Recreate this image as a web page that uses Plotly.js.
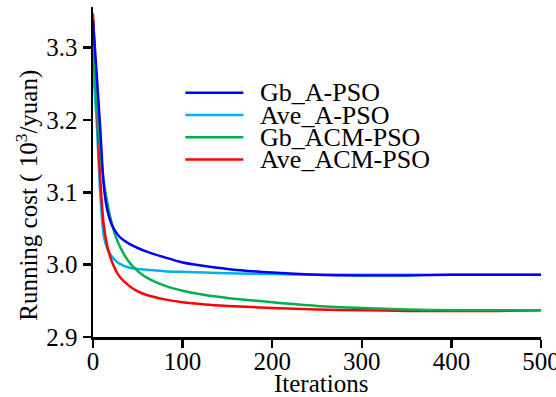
<!DOCTYPE html>
<html>
<head>
<meta charset="utf-8">
<script src="https://cdn.plot.ly/plotly-3.0.1.min.js"></script>
<style>html,body{margin:0;padding:0;background:#fff;}#chart{width:556px;height:397px;}</style>
</head>
<body>
<div id="chart"></div>
<script>
const iterations = [0,4,8,12,16,20,25,30,40,50,60,80,100,125,150,200,250,300,350,400,450,500];
const gbAPSO   = [3.338,3.265,3.19,3.11,3.075,3.058,3.046,3.038,3.029,3.023,3.018,3.010,3.003,2.998,2.994,2.989,2.986,2.985,2.985,2.986,2.986,2.986];
const aveAPSO  = [3.275,3.20,3.10,3.04,3.022,3.013,3.006,3.001,2.996,2.994,2.993,2.991,2.990,2.989,2.988,2.987,2.986,2.986,2.986,2.986,2.986,2.986];
const gbACMPSO = [3.300,3.225,3.16,3.115,3.085,3.062,3.040,3.025,3.004,2.991,2.982,2.971,2.964,2.958,2.954,2.948,2.943,2.940,2.938,2.937,2.937,2.937];
const aveACMPSO= [3.347,3.23,3.12,3.055,3.025,3.008,2.993,2.983,2.971,2.963,2.958,2.952,2.948,2.945,2.943,2.940,2.938,2.937,2.936,2.936,2.936,2.937];

const seriesNames = ["Gb_A-PSO","Ave_A-PSO","Gb_ACM-PSO","Ave_ACM-PSO"];
const seriesValues = [gbAPSO, aveAPSO, gbACMPSO, aveACMPSO];
const seriesColors = ["#0000ff","#00b0f0","#00b050","#ff0000"];
const drawOrder = [1,3,2,0];

const xTickVals = [0,100,200,300,400,500];
const xTickText = ["0","100","200","300","400","500"];
const yTickVals = [2.9,3.0,3.1,3.2,3.3];
const yTickText = ["2.9","3.0","3.1","3.2","3.3"];

const xTitle = "Iterations";
const yTitle = "Running cost ( 10<sup>3</sup>/yuan)";
const FONT = "Liberation Serif";

const traces = drawOrder.map(i => ({
  x: iterations, y: seriesValues[i], name: seriesNames[i],
  type: "scatter", mode: "lines",
  line: {color: seriesColors[i], width: 2.5, shape: "spline", smoothing: 0.8},
  showlegend: false
}));

// manual legend (compact rows)
const legX0 = 0.206, legX1 = 0.3356, legTextX = 0.369;
const legY = [0.7403, 0.6727, 0.6051, 0.5379];
const shapes = [], annotations = [];
seriesNames.forEach((n, i) => {
  shapes.push({type: "line", xref: "paper", yref: "paper", x0: legX0, x1: legX1, y0: legY[i], y1: legY[i],
    line: {color: seriesColors[i], width: 2.5}});
  annotations.push({xref: "paper", yref: "paper", x: legTextX, y: legY[i], xanchor: "left", yanchor: "middle",
    text: n, showarrow: false, font: {family: FONT, size: 26, color: "#000"}});
});
annotations.push({xref: "paper", yref: "paper", x: 0.508, y: -0.1424, xanchor: "center", yanchor: "middle",
  text: xTitle, showarrow: false, font: {family: FONT, size: 25, color: "#000"}});
annotations.push({xref: "paper", yref: "paper", x: -0.148, y: 0.43, xanchor: "center", yanchor: "middle",
  textangle: -90, text: yTitle, showarrow: false, font: {family: FONT, size: 25, color: "#000"}});

const layout = {
  width: 556, height: 397,
  margin: {l: 93, r: 15, t: 7, b: 60},
  paper_bgcolor: "#fff", plot_bgcolor: "#fff",
  font: {family: FONT, size: 25, color: "#000"},
  showlegend: false,
  xaxis: {range: [0, 500], tickmode: "array", tickvals: xTickVals, ticktext: xTickText, ticks: "outside", ticklen: 8, tickwidth: 2.5,
    tickcolor: "#000", showline: true, linewidth: 2.5, linecolor: "#000", showgrid: false, zeroline: false,
    ticklabeloverflow: "allow", ticklabelstandoff: -8, tickfont: {family: FONT, size: 25, color: "#000"}, automargin: false},
  yaxis: {range: [2.9, 3.356], tickmode: "array", tickvals: yTickVals, ticktext: yTickText, ticks: "outside", ticklen: 8, tickwidth: 2.5,
    tickcolor: "#000", showline: true, linewidth: 2.5, linecolor: "#000", showgrid: false, zeroline: false,
    ticklabeloverflow: "allow", tickfont: {family: FONT, size: 25, color: "#000"}, automargin: false},
  shapes: shapes,
  annotations: annotations
};

Plotly.newPlot("chart", traces, layout, {staticPlot: true, displayModeBar: false});
</script>
</body>
</html>
